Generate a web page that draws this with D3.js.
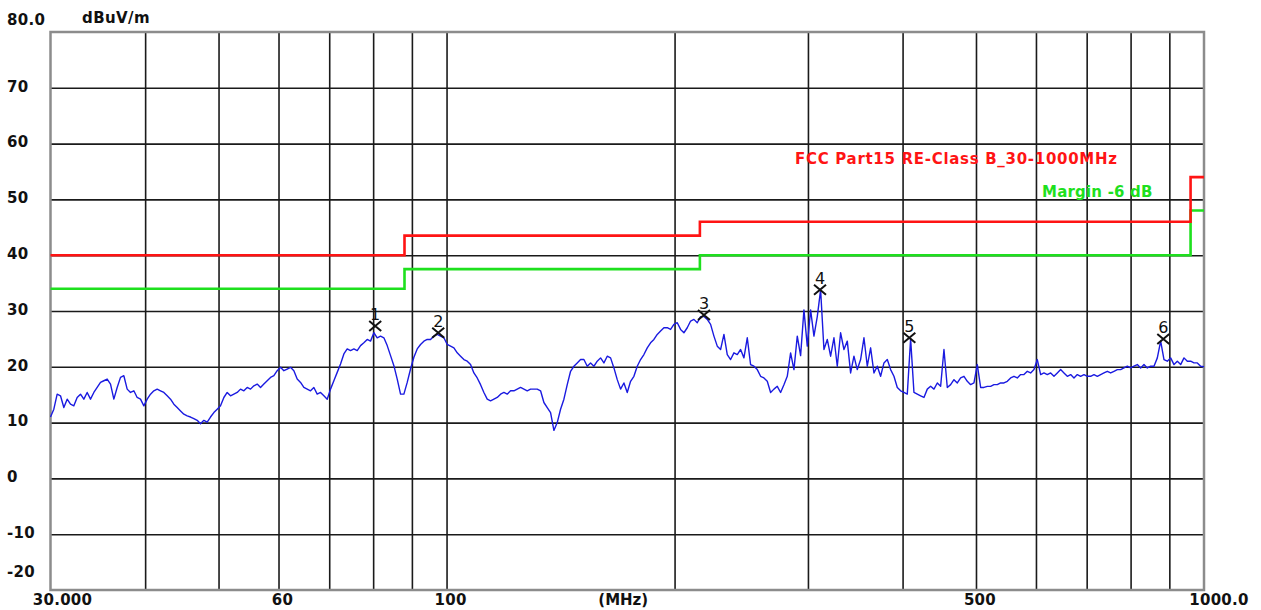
<!DOCTYPE html>
<html><head><meta charset="utf-8">
<script src="https://cdn.jsdelivr.net/npm/d3@7"></script>
<style>html,body{margin:0;padding:0;background:#fff;} svg{display:block}</style>
</head><body><svg id="c" width="1261" height="610"></svg>
<script>
// ---------- data ----------
const levelTicks = [80,70,60,50,40,30,20,10,0,-10,-20];
const levelTickLabels = ["80.0","70","60","50","40","30","20","10","0","-10","-20"];
const freqGrid = [40,50,60,70,80,90,100,200,300,400,500,600,700,800,900];
const freqTickValues = [30,60,100,500,1000];
const freqTickLabels = ["30.000","60","100","500","1000.0"];
const unitY = "dBuV/m";
const unitX = "(MHz)";
const limitName = "FCC Part15 RE-Class B_30-1000MHz";
const marginName = "Margin -6 dB";
const limitFreq = [30, 88, 216, 960, 1000];
const limitLevel = [40.0, 43.5, 46.0, 54.0, 54.0];
const marginOffset = -6;
const markerIds = ["1","2","3","4","5","6"];
const markerFreq = [80.5, 97.5, 218.7, 311.2, 408.3, 883.6];
const markerLevel = [27.3, 26.1, 29.3, 33.8, 25.2, 25.0];
const sweepStart = 30, sweepStop = 1000;
const trace = [
11.0,12.4,15.1,14.8,12.7,14.2,13.3,13.0,14.5,15.1,
14.2,15.4,14.2,15.4,16.3,17.2,17.5,17.8,16.9,14.2,
16.3,18.1,18.4,16.0,15.4,15.7,14.5,14.2,13.0,14.2,
15.1,15.7,16.0,15.7,15.4,14.8,14.2,13.3,12.7,12.1,
11.5,11.2,11.0,10.7,10.4,9.8,10.4,10.1,11.0,11.8,
12.4,13.0,14.5,15.4,14.8,15.1,15.4,16.0,15.7,16.3,
16.0,16.6,16.9,16.3,16.9,17.5,18.1,18.4,19.3,19.9,
19.3,19.6,19.9,19.3,17.8,17.2,16.3,16.0,15.7,16.3,
15.1,15.4,14.8,14.2,16.0,17.5,19.0,20.5,22.3,23.2,
22.9,23.2,22.9,23.8,24.3,24.9,24.6,26.1,25.2,25.5,
25.2,23.8,22.0,20.2,17.8,15.1,15.1,17.2,19.6,21.7,
23.2,24.0,24.6,24.9,24.9,25.5,25.8,25.5,
25.2,24.0,23.7,23.4,22.5,21.9,21.3,21.0,20.4,18.9,
18.0,16.8,15.4,14.2,13.9,14.2,14.5,15.1,15.4,15.1,
15.7,15.7,16.0,16.3,16.0,15.7,16.0,16.0,16.0,15.7,
13.6,12.7,11.8,8.6,10.0,12.4,14.2,16.8,19.2,20.1,
20.7,21.3,21.3,20.1,20.7,20.1,21.0,21.6,20.7,21.9,
21.6,19.8,17.7,16.0,17.1,15.4,17.4,18.3,20.1,21.3,
22.2,23.4,24.3,24.9,25.8,26.4,27.0,27.0,26.7,27.6,
27.9,26.7,26.1,27.0,28.2,28.5,27.9,29.0,29.0,28.5,
27.6,25.5,23.7,23.1,25.8,22.2,21.3,22.5,22.2,23.1,
21.6,25.2,20.4,20.1,19.5,18.3,18.0,17.4,15.4,16.0,
16.5,15.4,16.8,18.3,22.5,19.5,25.5,22.0,30.2,23.7,
30.2,25.5,29.0,33.8,23.1,24.9,21.9,25.2,20.1,
26.1,23.1,24.6,18.9,21.9,19.5,21.3,25.2,20.1,23.4,
18.9,20.1,18.3,20.7,21.3,19.5,18.3,16.3,15.7,15.4,
15.1,25.0,15.4,15.1,14.8,14.5,16.0,16.5,16.0,17.1,
16.5,23.1,16.3,16.8,17.7,17.1,18.0,18.3,17.4,16.8,
17.1,20.4,16.3,16.3,16.5,16.5,16.8,16.8,17.1,17.1,
17.4,18.0,18.3,18.0,18.6,18.6,19.2,18.9,19.5,21.3,
18.6,18.9,18.6,18.9,18.3,18.9,19.5,18.9,18.3,18.6,
18.0,18.6,18.3,18.6,18.3,18.3,18.6,18.3,18.6,18.9,
19.2,18.9,19.2,19.5,19.5,19.8,20.1,19.8,20.1,20.4,
19.8,20.4,19.8,20.1,20.1,21.6,24.6,21.3,21.0,21.6,
20.4,21.0,20.4,21.6,21.0,21.0,20.7,20.7,20.1,20.0
];

// ---------- layout ----------
const L = 50.5, R = 1204, T = 32, B = 590;
const svg = d3.select("#c");
const x = d3.scaleLog().domain([sweepStart, sweepStop]).range([L, R]);
const y = d3.scaleLinear().domain([-20, 80]).range([B, T]);
const FONT = "'DejaVu Sans', Verdana, sans-serif";

svg.append("rect").attr("width",1261).attr("height",610).attr("fill","#fff");

// gridlines via axes
const gx = svg.append("g").attr("transform",`translate(0,${B})`)
  .call(d3.axisBottom(x).tickValues(freqGrid).tickSize(-(B-T)).tickFormat(""));
const gy = svg.append("g").attr("transform",`translate(${L},0)`)
  .call(d3.axisLeft(y).tickValues(levelTicks.filter(v=>v>-20&&v<80)).tickSize(-(R-L)).tickFormat(""));
[gx,gy].forEach(g=>{
  g.select(".domain").remove();
  g.selectAll(".tick line").attr("stroke","#1a1a1a").attr("stroke-width",1.6);
});

// frame
svg.append("rect").attr("x",L).attr("y",T).attr("width",R-L).attr("height",B-T)
  .attr("fill","none").attr("stroke","#8c8c8c").attr("stroke-width",2.5);

// limit + margin lines
const limPts = limitFreq.map((f,i)=>[f, limitLevel[i]]);
const stepLine = d3.line().x(d=>x(d[0])).y(d=>y(d[1])).curve(d3.curveStepAfter);
svg.append("path").attr("d", stepLine(limPts.map(d=>[d[0], d[1]+marginOffset])))
  .attr("fill","none").attr("stroke","#1ee01e").attr("stroke-width",2.6);
svg.append("path").attr("d", stepLine(limPts))
  .attr("fill","none").attr("stroke","#ff1414").attr("stroke-width",2.6);

// trace
const n = trace.length;
const ratio = sweepStop / sweepStart;
const tracePts = trace.map((v,i)=>[sweepStart*Math.pow(ratio, i/(n-1)), v]);
svg.append("path").attr("d", d3.line().x(d=>x(d[0])).y(d=>y(d[1]))(tracePts))
  .attr("fill","none").attr("stroke","#1a1ae0").attr("stroke-width",1.4)
  .attr("stroke-linejoin","round");

// markers
markerFreq.forEach((f,i)=>{
  const cx = x(f), cy = y(markerLevel[i]);
  const g = svg.append("g");
  g.append("path").attr("d",`M${cx-6},${cy-5}L${cx+6},${cy+5}M${cx-6},${cy+5}L${cx+6},${cy-5}`)
    .attr("stroke","#111").attr("stroke-width",2);
  g.append("text").attr("x",cx).attr("y",cy-6).attr("text-anchor","middle")
    .attr("font-family",FONT).attr("font-size",16).attr("fill","#111").text(markerIds[i]);
});

// y labels
levelTicks.forEach((v,i)=>{
  let by = y(v) + 3.8;
  if (i === 0) by = y(v) - 7;
  if (i === levelTicks.length-1) by = B - 13;
  svg.append("text").attr("x",7).attr("y",by)
    .attr("font-family",FONT).attr("font-weight","bold").attr("font-size",15)
    .attr("letter-spacing",0.3).attr("fill","#111").text(levelTickLabels[i]);
});
svg.append("text").attr("x",82).attr("y",23)
  .attr("font-family",FONT).attr("font-weight","bold").attr("font-size",15)
  .attr("letter-spacing",0.4).attr("fill","#111").text(unitY);

// x labels
freqTickValues.forEach((f,i)=>{
  let dx = 4;
  if (i === 0) dx = 12;
  if (i === freqTickValues.length-1) dx = 15;
  svg.append("text").attr("x",x(f)+dx).attr("y",605).attr("text-anchor","middle")
    .attr("font-family",FONT).attr("font-weight","bold").attr("font-size",15)
    .attr("letter-spacing",0.3).attr("fill","#111").text(freqTickLabels[i]);
});
svg.append("text").attr("x",(L+R)/2-4).attr("y",605).attr("text-anchor","middle")
  .attr("font-family",FONT).attr("font-weight","bold").attr("font-size",15)
  .attr("fill","#111").text(unitX);

// legend texts
svg.append("text").attr("x",795).attr("y",164)
  .attr("font-family",FONT).attr("font-weight","bold").attr("font-size",15)
  .attr("letter-spacing",0.7).attr("fill","#ff1414").text(limitName);
svg.append("text").attr("x",1042).attr("y",197)
  .attr("font-family",FONT).attr("font-weight","bold").attr("font-size",15)
  .attr("letter-spacing",0.2).attr("fill","#1ee01e").text(marginName);
</script></body></html>
